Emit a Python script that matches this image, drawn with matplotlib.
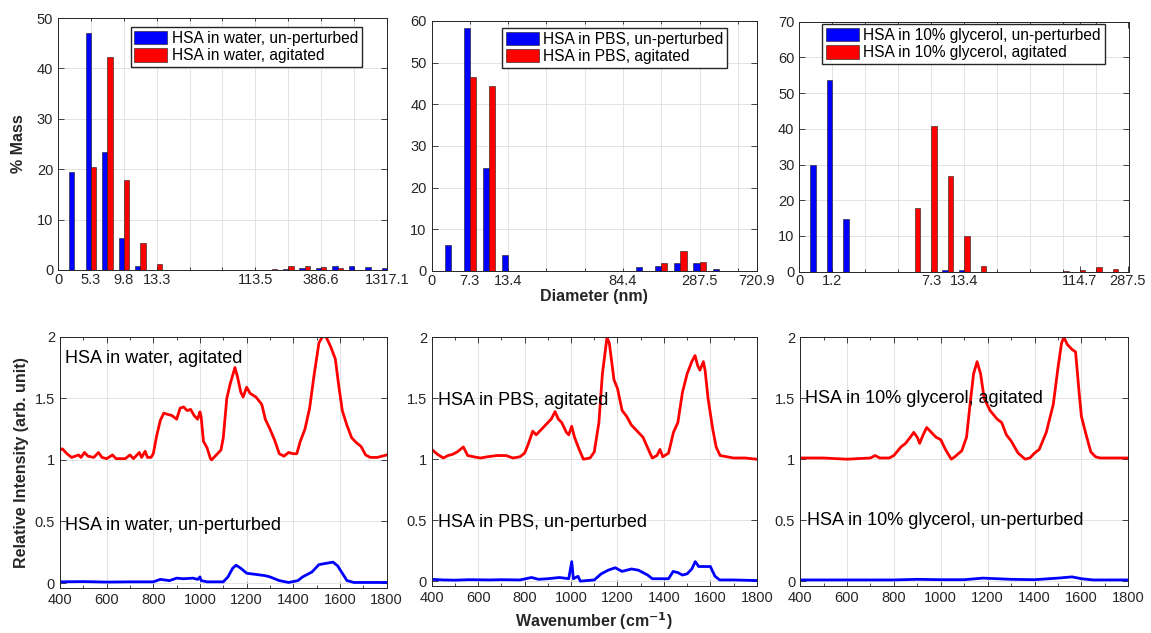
import numpy as np
import matplotlib
matplotlib.use("Agg")
import matplotlib.pyplot as plt

plt.rcParams["font.family"] = ["Liberation Sans", "DejaVu Sans"]
AX_C = "#262626"
GRID_C = "#e3e3e3"

# ---- DLS size distributions (% mass per size bin) ---------------------------
water_blue = [19.4, 47.0, 23.4, 6.3, 0.8, 0, 0, 0, 0, 0, 0, 0, 0.05, 0.1, 0.3, 0.4, 0.7, 0.7, 0.6, 0.3]
water_red = [0, 20.5, 42.3, 17.8, 5.4, 1.2, 0, 0, 0, 0, 0, 0, 0.15, 0.7, 0.7, 0.5, 0.3, 0.05, 0, 0]
water_ticks = [0, 2, 4, 6, 12, 16, 20]
water_labels = ["0", "5.3", "9.8", "13.3", "113.5", "386.6", "1317.1"]

pbs_blue = [6.3, 58.2, 24.8, 3.9, 0, 0, 0, 0, 0, 0.1, 0.9, 1.3, 1.9, 1.8, 0.4, 0, 0]
pbs_red = [0, 46.6, 44.5, 0.1, 0, 0, 0, 0, 0, 0, 0, 2.0, 4.7, 2.1, 0, 0, 0]
pbs_ticks = [0, 2, 4, 10, 14, 17]
pbs_labels = ["0", "7.3", "13.4", "84.4", "287.5", "720.9"]

glyc_blue = [30.0, 53.8, 14.8, 0, 0, 0, 0, 0, 0.6, 0.4, 0, 0, 0, 0, 0, 0, 0, 0, 0, 0]
glyc_red = [0, 0, 0, 0, 0, 0, 17.8, 40.8, 26.8, 9.9, 1.6, 0, 0, 0, 0, 0.15, 0.35, 1.3, 0.7, 0]
glyc_ticks = [0, 2, 8, 10, 17, 19.9]
glyc_labels = ["0", "1.2", "7.3", "13.4", "114.7", "287.5"]

# ---- Raman spectra (wavenumber, relative intensity) -------------------------
water_ag_wn = [400, 410, 430, 450, 480, 490, 505, 520, 545, 565, 580, 600, 625, 640, 680, 700, 715,
               740, 750, 765, 775, 790, 800, 815, 830, 845, 860, 880, 900, 915, 930, 945, 960, 975,
               990, 1000, 1005, 1015, 1030, 1045, 1050, 1070, 1090, 1100, 1115, 1130, 1150, 1160,
               1175, 1185, 1200, 1215, 1240, 1265, 1280, 1300, 1320, 1340, 1360, 1380, 1400, 1415,
               1430, 1450, 1470, 1490, 1510, 1525, 1540, 1560, 1580, 1595, 1610, 1630, 1650, 1670,
               1690, 1710, 1730, 1760, 1780, 1800]
water_ag_i = [1.08, 1.09, 1.05, 1.02, 1.04, 1.02, 1.06, 1.03, 1.02, 1.06, 1.02, 1.01, 1.04, 1.01,
              1.01, 1.04, 1.01, 1.06, 1.02, 1.07, 1.02, 1.02, 1.05, 1.20, 1.32, 1.38, 1.37, 1.36,
              1.33, 1.42, 1.43, 1.40, 1.41, 1.36, 1.33, 1.39, 1.35, 1.15, 1.10, 1.01, 1.00, 1.04,
              1.08, 1.18, 1.50, 1.62, 1.75, 1.68, 1.55, 1.51, 1.59, 1.54, 1.51, 1.45, 1.33, 1.25,
              1.16, 1.05, 1.03, 1.06, 1.05, 1.05, 1.15, 1.25, 1.42, 1.70, 1.95, 2.00, 2.00, 1.92,
              1.82, 1.60, 1.40, 1.28, 1.18, 1.14, 1.11, 1.04, 1.02, 1.02, 1.03, 1.04]
water_un_wn = [400, 500, 600, 700, 800, 830, 870, 900, 930, 970, 990, 1000, 1005, 1030, 1100, 1120,
               1140, 1155, 1175, 1200, 1240, 1280, 1300, 1340, 1380, 1420, 1440, 1480, 1510, 1540,
               1570, 1590, 1610, 1630, 1660, 1800]
water_un_i = [0.01, 0.012, 0.008, 0.01, 0.01, 0.03, 0.02, 0.04, 0.035, 0.04, 0.03, 0.05, 0.02, 0.01,
              0.01, 0.05, 0.12, 0.145, 0.12, 0.08, 0.07, 0.06, 0.05, 0.02, 0.005, 0.02, 0.05, 0.09,
              0.15, 0.16, 0.17, 0.14, 0.08, 0.02, 0.005, 0.005]

pbs_ag_wn = [400, 425, 450, 470, 490, 510, 536, 555, 580, 610, 640, 680, 720, 750, 780, 800, 815,
             835, 850, 870, 900, 915, 931, 945, 960, 980, 990, 1003, 1015, 1035, 1053, 1082, 1100,
             1120, 1135, 1155, 1165, 1185, 1200, 1220, 1240, 1260, 1290, 1310, 1340, 1350, 1370,
             1383, 1395, 1420, 1441, 1460, 1480, 1500, 1520, 1534, 1545, 1555, 1570, 1578, 1590,
             1610, 1625, 1642, 1700, 1750, 1800]
pbs_ag_i = [1.08, 1.04, 1.01, 1.03, 1.04, 1.06, 1.10, 1.03, 1.02, 1.01, 1.02, 1.03, 1.03, 1.01,
            1.02, 1.05, 1.12, 1.23, 1.20, 1.24, 1.30, 1.33, 1.39, 1.33, 1.30, 1.22, 1.20, 1.27,
            1.18, 1.08, 1.00, 1.01, 1.06, 1.30, 1.70, 2.00, 1.95, 1.65, 1.58, 1.40, 1.35, 1.28,
            1.22, 1.18, 1.05, 1.01, 1.03, 1.08, 1.02, 1.05, 1.22, 1.30, 1.55, 1.70, 1.80, 1.85,
            1.77, 1.73, 1.80, 1.72, 1.50, 1.25, 1.10, 1.03, 1.01, 1.01, 1.00]
pbs_un_wn = [400, 450, 500, 560, 650, 700, 780, 830, 860, 900, 950, 990, 1003, 1010, 1030, 1040,
             1100, 1130, 1160, 1190, 1220, 1260, 1290, 1330, 1350, 1420, 1440, 1460, 1480, 1500,
             1520, 1535, 1550, 1600, 1620, 1640, 1700, 1800]
pbs_un_i = [0.015, 0.01, 0.008, 0.012, 0.01, 0.012, 0.01, 0.03, 0.015, 0.02, 0.03, 0.02, 0.16, 0.02,
            0.04, 0.0, 0.01, 0.06, 0.09, 0.11, 0.08, 0.10, 0.09, 0.05, 0.02, 0.02, 0.08, 0.07, 0.05,
            0.06, 0.10, 0.16, 0.12, 0.12, 0.04, 0.01, 0.01, 0.005]

glyc_ag_wn = [400, 500, 600, 700, 720, 740, 780, 800, 830, 850, 870, 885, 900, 910, 925, 940, 960,
              980, 1000, 1020, 1045, 1060, 1090, 1110, 1125, 1140, 1155, 1170, 1185, 1210, 1240,
              1260, 1280, 1300, 1330, 1360, 1380, 1400, 1420, 1450, 1480, 1500, 1515, 1525, 1540,
              1560, 1575, 1590, 1600, 1620, 1640, 1660, 1680, 1800]
glyc_ag_i = [1.01, 1.01, 1.00, 1.01, 1.03, 1.01, 1.01, 1.03, 1.10, 1.13, 1.18, 1.22, 1.18, 1.13,
             1.20, 1.26, 1.22, 1.18, 1.16, 1.08, 1.00, 1.02, 1.07, 1.18, 1.45, 1.70, 1.80, 1.70,
             1.50, 1.40, 1.33, 1.30, 1.20, 1.15, 1.05, 1.00, 1.01, 1.05, 1.08, 1.22, 1.45, 1.75,
             1.95, 2.00, 1.94, 1.90, 1.88, 1.55, 1.35, 1.20, 1.06, 1.02, 1.01, 1.01]
glyc_un_wn = [400, 800, 900, 1000, 1100, 1180, 1300, 1400, 1500, 1560, 1600, 1650, 1800]
glyc_un_i = [0.01, 0.01, 0.015, 0.012, 0.012, 0.025, 0.015, 0.012, 0.025, 0.035, 0.02, 0.01, 0.01]


def style_axes(ax):
    for s in ax.spines.values():
        s.set_color(AX_C)
        s.set_linewidth(0.7)
    ax.tick_params(which="both", direction="in", top=True, right=True, colors=AX_C,
                   labelsize=10.5, width=0.6)
    ax.tick_params(which="major", length=4)
    ax.tick_params(which="minor", length=2)
    ax.set_axisbelow(True)


def bar_panel(ax, blue, red, ticks, labels, xmax, ymax, leg, anchor):
    style_axes(ax)
    ax.tick_params(axis="x", pad=2)
    x = np.arange(1, len(blue) + 1)
    w = 0.32
    ax.bar(x - w / 2, blue, w, color="#0000ff", edgecolor="#1a1a1a", linewidth=0.4, label=leg[0])
    ax.bar(x + w / 2, red, w, color="#ff0000", edgecolor="#1a1a1a", linewidth=0.4, label=leg[1])
    ax.set_xlim(0, xmax)
    ax.set_ylim(0, ymax)
    ax.set_yticks(np.arange(0, ymax + 1, 10))
    ax.set_xticks(ticks, labels)
    ax.set_xticks(np.arange(0, xmax + 0.1, 2), minor=True)
    ax.xaxis.remove_overlapping_locs = False
    ax.grid(True, which="minor", axis="x", color=GRID_C, lw=0.7)
    ax.grid(True, which="major", axis="y", color=GRID_C, lw=0.7)
    ax.legend(loc="upper right", bbox_to_anchor=anchor, fontsize=11.2, fancybox=False,
              edgecolor=AX_C, framealpha=1, borderpad=0.25, labelspacing=0.15,
              handlelength=2.1, handleheight=0.95, handletextpad=0.3, borderaxespad=0)


def spec_panel(ax, ag_wn, ag_i, un_wn, un_i, t_ag, t_un):
    style_axes(ax)
    ax.plot(ag_wn, ag_i, color="#ff0000", lw=2)
    ax.plot(un_wn, un_i, color="#0000ff", lw=2)
    ax.set_xlim(400, 1800)
    ax.set_ylim(-0.04, 2)
    ax.set_xticks(np.arange(400, 1801, 200))
    ax.set_xticks(np.arange(400, 1801, 100), minor=True)
    ax.set_yticks([0, 0.5, 1, 1.5, 2], ["0", "0.5", "1", "1.5", "2"])
    ax.grid(True, which="major", color=GRID_C, lw=0.7)
    ax.text(t_ag[0], t_ag[1], t_ag[2], fontsize=13, va="center", color="k")
    ax.text(t_un[0], t_un[1], t_un[2], fontsize=13, va="center", color="k")


fig = plt.figure(figsize=(11.51, 6.33), dpi=100)
ax1 = fig.add_axes([0.0504, 0.5735, 0.2858, 0.398])
ax2 = fig.add_axes([0.3749, 0.5719, 0.2828, 0.395])
ax3 = fig.add_axes([0.6944, 0.5708, 0.2867, 0.395])
ax4 = fig.add_axes([0.0521, 0.0711, 0.2838, 0.397])
ax5 = fig.add_axes([0.3751, 0.0742, 0.2824, 0.393])
ax6 = fig.add_axes([0.6951, 0.0742, 0.2852, 0.393])

bar_panel(ax1, water_blue, water_red, water_ticks, water_labels, 20, 50,
          ["HSA in water, un-perturbed", "HSA in water, agitated"], (0.924, 0.964))
bar_panel(ax2, pbs_blue, pbs_red, pbs_ticks, pbs_labels, 17, 60,
          ["HSA in PBS, un-perturbed", "HSA in PBS, agitated"], (0.909, 0.973))
bar_panel(ax3, glyc_blue, glyc_red, glyc_ticks, glyc_labels, 20, 70,
          ["HSA in 10% glycerol, un-perturbed", "HSA in 10% glycerol, agitated"], (0.926, 0.99))

spec_panel(ax4, water_ag_wn, water_ag_i, water_un_wn, water_un_i,
           (421, 1.82, "HSA in water, agitated"), (421, 0.47, "HSA in water, un-perturbed"))
spec_panel(ax5, pbs_ag_wn, pbs_ag_i, pbs_un_wn, pbs_un_i,
           (429, 1.48, "HSA in PBS, agitated"), (429, 0.485, "HSA in PBS, un-perturbed"))
spec_panel(ax6, glyc_ag_wn, glyc_ag_i, glyc_un_wn, glyc_un_i,
           (421, 1.5, "HSA in 10% glycerol, agitated"), (428, 0.5, "HSA in 10% glycerol, un-perturbed"))

ax1.set_ylabel("% Mass", fontsize=11.5, fontweight="bold", color=AX_C, labelpad=8)
ax2.set_xlabel("Diameter (nm)", fontsize=11.5, fontweight="bold", color=AX_C, labelpad=1)
ax4.set_ylabel("Relative Intensity (arb. unit)", fontsize=11.5, fontweight="bold", color=AX_C, labelpad=4)
ax5.set_xlabel("Wavenumber (cm$^{\\mathbf{-1}}$)", fontsize=11.5, fontweight="bold", color=AX_C, labelpad=4)

fig.savefig("out.png", dpi=100)
